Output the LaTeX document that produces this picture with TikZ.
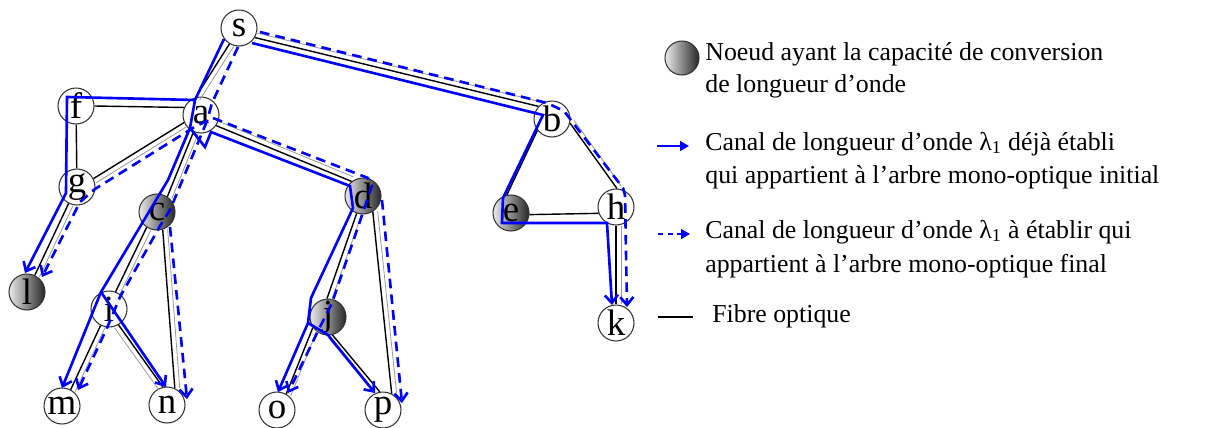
\documentclass[tikz,border=0pt]{standalone}
\usepackage{fontspec}
\setmainfont{Liberation Serif}
\usetikzlibrary{calc,arrows.meta}
\newcommand\fibreL[2]{\draw[fib] (#1) -- (#2); \draw[gry] ($(#1)!2.8pt!90:(#2)$) -- ($(#2)!2.8pt!-90:(#1)$);}
\newcommand\fibreR[2]{\draw[fib] (#1) -- (#2); \draw[gry] ($(#1)!2.8pt!-90:(#2)$) -- ($(#2)!2.8pt!90:(#1)$);}
\begin{document}
\begin{tikzpicture}[x=0.02cm,y=-0.02cm,
  nd/.style={circle,draw=black!80,line width=0.6pt,fill=white,minimum size=0.72cm,inner sep=0pt,
    font=\fontsize{21pt}{22pt}\selectfont},
  cv/.style={nd,left color=black!8,right color=black!85},
  fib/.style={black,line width=0.8pt},
  gry/.style={black!40,line width=0.45pt},
  sol/.style={blue,line width=1.5pt,line join=miter},
  dsh/.style={blue,line width=1.5pt,dash pattern=on 5.5pt off 3.5pt},
  arr/.style={-{Straight Barb[length=4.5pt,width=7.5pt]}},
  lt/.style={anchor=base west,inner sep=0pt,font=\fontsize{14.7pt}{17pt}\selectfont}
]
\useasboundingbox (0,0) rectangle (1215,427);
% nodes
\node[nd] (s) at (239,28) {s};
\node[nd] (f) at (76,106) {f};
\node[nd] (a) at (201,115) {a};
\node[nd] (b) at (552,119) {b};
\node[nd] (g) at (77,187) {g};
\node[cv] (c) at (157,212) {c};
\node[cv] (d) at (363,196) {d};
\node[cv] (e) at (511,213) {e};
\node[nd] (h) at (616,207) {h};
\node[cv] (l) at (27,292) {l};
\node[nd] (i) at (109,309) {i};
\node[cv] (j) at (328,317) {j};
\node[nd] (k) at (616,323) {k};
\node[nd] (m) at (62,406) {m};
\node[nd] (n) at (167,405) {n};
\node[nd] (o) at (277,410) {o};
\node[nd] (p) at (383,410) {p};
% fibres
\fibreL{s.-121}{a.107}
\fibreL{s.-31}{b.137}
\draw[fib] (f.0) -- (a.156);
\draw[fib] (f) -- (g);
\fibreR{g.27}{a.204}
\fibreL{g.243}{l.65}
\fibreL{a.246}{c.56}
\fibreL{a.-35}{d.128}
\fibreL{c.236}{i.69}
\fibreL{c.-72}{n.65}
\fibreL{i.243}{m.62}
\fibreR{i.-59}{n.103}
\fibreL{d.250}{j.93}
\fibreL{d.-58}{p.62}
\fibreL{j.215}{o.60}
\fibreR{j.-76}{p.100}
\draw[fib] (b.218) -- (e.103);
\fibreL{b.-13}{h.87}
\draw[fib] (e.-5) -- (h.200);
\fibreL{h.-90}{k.90}
% initial tree (solid)
\draw[sol,arr] ($(s)+(-15,11)$) -- ($(a)+(-6,-15)$) -- ($(a)+(-11,13)$) -- ($(c)+(11,-32)$)
  -- ($(i)+(-8,-17)$) -- ($(m)+(0,-18)$);
\draw[sol,arr] ($(i)+(-8,-17)$) -- ($(n)+(-1,-18)$);
\draw[sol,arr] ($(a)+(-6,-15)$) -- ($(f)+(-9,-9)$) -- ($(g)+(-11,6)$) -- ($(l)+(-2,-19)$);
\draw[sol,arr] ($(a)+(-11,13)$) -- ($(a)+(4,32)$) -- ($(a)+(10,17)$) -- ($(d)+(-13,-10)$)
  -- ($(d)+(-10,12)$) -- ($(j)+(-17,-19)$) -- ($(j)+(-20,6)$) -- ($(o)+(1,-18)$);
\draw[sol,arr] ($(j)+(-20,6)$) -- ($(j)+(0,18)$) -- ($(p)+(-8,-17)$);
\draw[sol,arr] ($(s)+(13,15)$) -- ($(b)+(-9,-4)$) -- ($(e)+(-8,-15)$) -- ($(e)+(-9,10)$)
  -- ($(h)+(-9,16)$) -- ($(k)+(-4,-18)$);
% final tree (dashed)
\draw[dsh,arr] ($(s)+(-1,19)$) -- ($(a)+(11,-12)$) -- ($(a)+(6,6)$) -- ($(a)+(-5,11)$)
  -- ($(g)+(18,2)$) -- ($(g)+(3,15)$) -- ($(l)+(15,-15)$);
\draw[dsh,arr] ($(a)+(6,6)$) -- ($(c)+(13,-2)$) -- ($(c)+(3,14)$) -- ($(i)+(11,-12)$)
  -- ($(i)+(-2,19)$) -- ($(m)+(16,-16)$);
\draw[dsh,arr] ($(c)+(13,15)$) -- ($(n)+(20,-6)$);
\draw[dsh,arr] ($(a)+(12,3)$) -- ($(d)+(5,-18)$) -- ($(d)+(9,-10)$) -- ($(j)+(4,-14)$)
  -- ($(j)+(-10,14)$) -- ($(o)+(11,-17)$);
\draw[dsh,arr] ($(d)+(19,4)$) -- ($(p)+(19,-7)$);
\draw[dsh,arr] ($(s)+(21,4)$) -- ($(b)+(-5,-16)$) -- ($(b)+(12,-8)$) -- ($(h)+(7,-19)$)
  -- ($(h)+(9,-12)$) -- ($(k)+(11,-16)$);
% legend
\node[cv,minimum size=0.68cm] (lc) at (682,58) {};
\node[lt] (t1) at (705,60) {Noeud ayant la capacité de conversion};
\node[lt] (t2) at (705,92) {de longueur d’onde};
\coordinate (as) at (657,146); \coordinate (ae) at (689,146);
\draw[blue,line width=1.2pt,-{Triangle[length=5pt,width=5.5pt]}] (as) -- (ae);
\node[lt] (t3) at (705,150) {Canal de longueur d’onde λ\textsubscript{1} déjà établi};
\node[lt] (t4) at (705,183) {qui appartient à l’arbre mono-optique initial};
\coordinate (ds) at (658,234); \coordinate (de) at (690,234);
\draw[blue,line width=1.2pt,dash pattern=on 3pt off 2.5pt,-{Triangle[length=5pt,width=5.5pt]}] (ds) -- (de);
\node[lt] (t5) at (705,238) {Canal de longueur d’onde λ\textsubscript{1} à établir qui};
\node[lt] (t6) at (705,272) {appartient à l’arbre mono-optique final};
\coordinate (fs) at (658,317); \coordinate (fe) at (693,317);
\draw[fib] (fs) -- (fe);
\node[lt] (t7) at (712,322) {Fibre optique};
\end{tikzpicture}
\end{document}
